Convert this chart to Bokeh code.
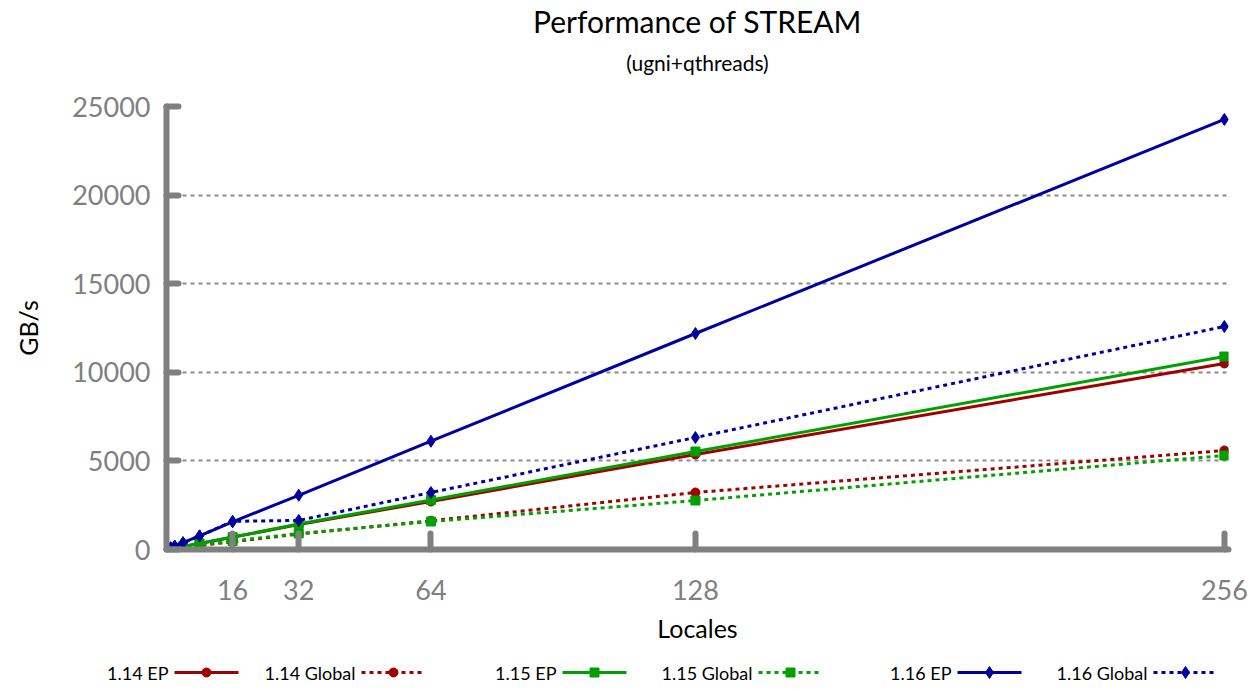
from bokeh.plotting import figure
from bokeh.models import Range1d, FixedTicker
from bokeh.layouts import column
from bokeh.embed import file_html
from bokeh.resources import INLINE
from bokeh.core.properties import value

FONT = "Lato"

locales = [1, 2, 4, 8, 16, 32, 64, 128, 256]
ep_114 = [42, 85, 170, 340, 690, 1410, 2709, 5361, 10497]
global_114 = [28, 56, 112, 225, 440, 870, 1620, 3217, 5587]
ep_115 = [43, 86, 172, 345, 700, 1440, 2790, 5530, 10890]
global_115 = [30, 60, 120, 240, 480, 903, 1580, 2765, 5305]
ep_116 = [96, 192, 385, 770, 1560, 3060, 6110, 12190, 24270]
global_116 = [95, 190, 380, 760, 1590, 1640, 3217, 6320, 12585]

x_ticks = [16, 32, 64, 128, 256]
y_ticks = [0, 5000, 10000, 15000, 20000, 25000]

title_text = "Performance of STREAM"
subtitle_text = "(ugni+qthreads)"

series_names = ["1.14 EP", "1.14 Global", "1.15 EP", "1.15 Global", "1.16 EP", "1.16 Global"]
series_values = [ep_114, global_114, ep_115, global_115, ep_116, global_116]
series_colors = ["#a00000", "#a00000", "#00a000", "#00a000", "#0000a0", "#0000a0"]
series_dash = ["solid", "4 4", "solid", "4 4", "solid", "4 4"]
series_marker = ["circle", "circle", "square", "square", "diamond", "diamond"]
marker_size = {"circle": 9, "square": 9, "diamond": 12}

W = 1249


def strip(height):
    f = figure(width=W, height=height, output_backend="svg", toolbar_location=None,
               x_range=Range1d(0, W), y_range=Range1d(0, height),
               min_border_left=0, min_border_right=0, min_border_top=0, min_border_bottom=0)
    f.axis.visible = False
    f.grid.visible = False
    f.outline_line_color = None
    f.frame_align = False
    return f


# header with title and subtitle
HH = 80
head = strip(HH)
head.text(x=[697], y=[HH - 20], text=[title_text], text_font=value(FONT), text_font_size="30px",
          text_align="center", text_baseline="middle", text_color="black")
head.text(x=[697], y=[HH - 62], text=[subtitle_text], text_font=value(FONT), text_font_size="21px",
          text_align="center", text_baseline="middle", text_color="black")

# main plot
p = figure(width=W, height=650 - HH, output_backend="svg", toolbar_location=None,
           x_range=Range1d(0, 257), y_range=Range1d(0, 25000),
           min_border_left=166, min_border_right=21, min_border_top=106 - HH, min_border_bottom=101)
p.outline_line_color = None
p.frame_align = False

for ax in (p.xaxis[0], p.yaxis[0]):
    ax.axis_line_color = "#808080"
    ax.axis_line_width = 6
    ax.axis_line_cap = "round"
    ax.major_tick_line_color = "#808080"
    ax.major_tick_line_width = 6
    ax.major_tick_line_cap = "round"
    ax.major_tick_out = 0
    ax.minor_tick_line_color = None
    ax.major_label_text_font = FONT
    ax.major_label_text_font_size = "27px"
    ax.major_label_text_color = "#808080"
    ax.axis_label_text_font = FONT
    ax.axis_label_text_font_size = "25px"
    ax.axis_label_text_font_style = "normal"
    ax.axis_label_text_color = "black"

p.xaxis.ticker = FixedTicker(ticks=x_ticks)
p.yaxis.ticker = FixedTicker(ticks=y_ticks)
p.xaxis.major_tick_in = 16
p.yaxis.major_tick_in = 12
p.xaxis.major_label_standoff = 30
p.yaxis.major_label_standoff = 16
p.xaxis.axis_label = "Locales"
p.yaxis.axis_label = "GB/s"
p.xaxis.axis_label_standoff = 10
p.yaxis.axis_label_standoff = 26

p.xgrid.grid_line_color = None
p.ygrid.ticker = FixedTicker(ticks=y_ticks[1:])
p.ygrid.grid_line_color = "#888888"
p.ygrid.grid_line_width = 2
p.ygrid.grid_line_dash = "4 4"

for name, vals, col, dash, mk in zip(series_names, series_values, series_colors, series_dash, series_marker):
    p.line(locales, vals, line_color=col, line_width=3, line_dash=dash)
    p.scatter(locales, vals, marker=mk, size=marker_size[mk], fill_color=col, line_color=col)

# legend strip (labels to the left of their samples)
LH = 38
leg = strip(LH)
text_right = [168, 355, 556, 752, 951, 1147]
y0 = 16
for name, col, dash, mk, tr in zip(series_names, series_colors, series_dash, series_marker, text_right):
    leg.text(x=[tr], y=[y0], text=[name], text_font=value(FONT), text_font_size="18px",
             text_align="right", text_baseline="middle", text_color="black")
    leg.line(x=[tr + 6, tr + 70], y=[y0, y0], line_color=col, line_width=3, line_dash=dash)
    leg.scatter(x=[tr + 38], y=[y0], marker=mk, size=marker_size[mk], fill_color=col, line_color=col)

open("out.html", "w").write(file_html(column(head, p, leg), INLINE))
